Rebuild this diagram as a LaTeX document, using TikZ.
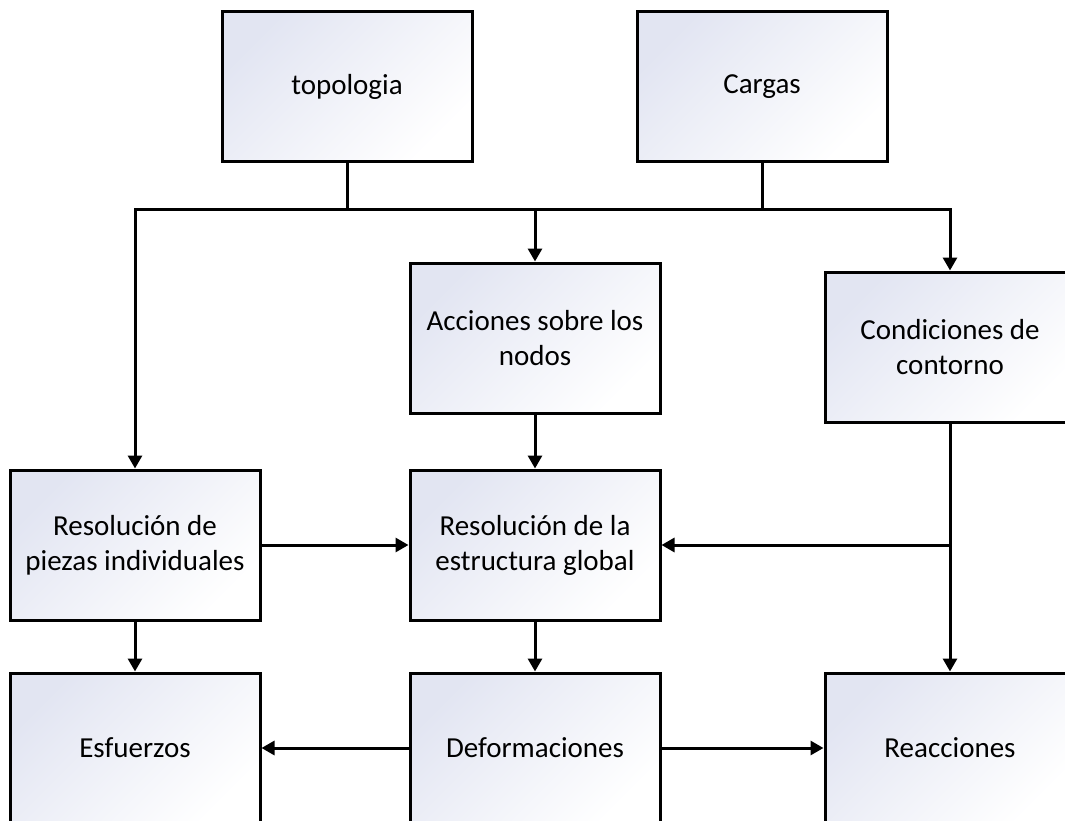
\documentclass[tikz,border=0pt]{standalone}
\usepackage{fontspec}
\setmainfont{Carlito}
\usetikzlibrary{arrows.meta}
\definecolor{boxtint}{RGB}{226,229,242}
\tikzset{
  stage/.style={draw=black, line width=3pt, minimum width=250pt, minimum height=150pt,
    inner sep=0pt, align=center, shading=axis, top color=boxtint, bottom color=white,
    shading angle=45, font=\fontsize{29pt}{35pt}\selectfont},
  link/.style={draw=black, line width=3pt},
  flow/.style={link, -{Triangle[width=14pt,length=13pt]}}
}
\begin{document}
\begin{tikzpicture}[x=1pt,y=-1pt]
\useasboundingbox (0,0) rectangle (1065,821);
\clip (0,0) rectangle (1065,821);
% input data
\node[stage] (topo)   at (347,87)  {topologia};
\node[stage] (cargas) at (762,87)  {Cargas};
% intermediate stages
\node[stage] (acc)    at (535,338) {Acciones sobre los\\nodos};
\node[stage] (cond)   at (950,347) {Condiciones de\\contorno};
\node[stage] (piezas) at (135,545) {Resolución de\\piezas individuales};
\node[stage] (global) at (535,545) {Resolución de la\\estructura global};
% results
\node[stage] (esf)    at (135,748) {Esfuerzos};
\node[stage] (def)    at (535,748) {Deformaciones};
\node[stage] (reac)   at (950,748) {Reacciones};
% distribution bus below the inputs
\coordinate (bus) at (0,210);
\draw[flow] (topo.south) |- (piezas.north |- bus) -- (piezas.north);
\draw[link] (topo.south |- bus) -- (acc.north |- bus);
\draw[flow] (cargas.south) |- (acc.north |- bus) -- (acc.north);
\draw[flow] (cargas.south) |- (cond.north |- bus) -- (cond.north);
% solution
\draw[flow] (acc.south) -- (global.north);
\draw[flow] (piezas.east) -- (global.west);
\draw[flow] (cond.south) -- (reac.north);
\draw[flow] (cond.south |- global.east) -- (global.east);
\draw[flow] (piezas.south) -- (esf.north);
\draw[flow] (global.south) -- (def.north);
\draw[flow] (def.west) -- (esf.east);
\draw[flow] (def.east) -- (reac.west);
\end{tikzpicture}
\end{document}
